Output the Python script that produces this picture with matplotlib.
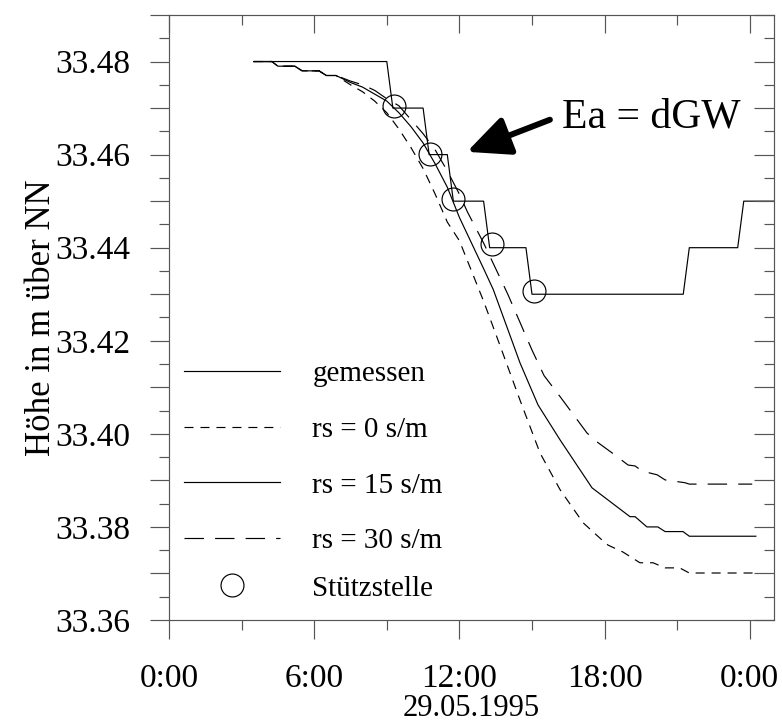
import matplotlib
matplotlib.use("Agg")
import matplotlib.pyplot as plt
from matplotlib.lines import Line2D
from matplotlib.ticker import MultipleLocator, FixedLocator, FuncFormatter, NullFormatter

plt.rcParams["font.family"] = ["Liberation Serif", "DejaVu Serif"]
plt.rcParams["lines.scale_dashes"] = False

# hours on 29.05.1995, water level in m above NN
meas_t = [3.5, 9.0, 9.25, 10.5, 10.75, 11.5, 11.75, 13.0, 13.25, 14.75, 15.0,
          21.25, 21.5, 23.5, 23.75, 25.0]
meas_h = [33.48, 33.48, 33.47, 33.47, 33.46, 33.46, 33.45, 33.45, 33.44, 33.44,
          33.43, 33.43, 33.44, 33.44, 33.45, 33.45]

# common start of the three simulations
start_t = [3.5, 4.25, 4.5, 5.2, 5.5, 6.2, 6.5, 6.9]
start_h = [33.480, 33.480, 33.479, 33.479, 33.478, 33.478, 33.477, 33.477]

rs0_t = start_t + [7.5, 8.0, 8.5, 9.0, 9.5, 10.0, 10.5, 11.0, 11.5, 12.0, 12.5,
                   13.0, 13.5, 14.0, 14.5, 15.33, 16.16, 17.11, 17.89, 18.14,
                   18.76, 19.46, 20.0, 20.5, 21.1, 21.5, 24.2]
rs0_h = start_h + [33.475, 33.4735, 33.4715, 33.469, 33.4655, 33.4615, 33.457,
                   33.4515, 33.4455, 33.4415, 33.435, 33.4285, 33.4215, 33.4144,
                   33.4073, 33.3959, 33.388, 33.3809, 33.3772, 33.3761, 33.3746,
                   33.3723, 33.3723, 33.3712, 33.3712, 33.3701, 33.3701]

rs15_t = start_t + [7.5, 8.0, 8.5, 9.0, 9.5, 10.0, 10.5, 11.0, 11.5, 12.0, 12.5,
                    13.0, 13.4, 14.2, 14.5, 15.25, 16.16, 17.48, 19.05, 19.26,
                    19.75, 20.2, 20.5, 21.24, 21.5, 24.25]
rs15_h = start_h + [33.4755, 33.4745, 33.473, 33.4715, 33.469, 33.466, 33.4625,
                    33.458, 33.453, 33.4465, 33.441, 33.4355, 33.431, 33.4196,
                    33.4153, 33.4062, 33.3987, 33.3884, 33.3822, 33.3822, 33.380,
                    33.380, 33.379, 33.379, 33.378, 33.378]

rs30_t = start_t + [7.5, 8.0, 8.5, 9.0, 9.5, 10.0, 10.5, 11.0, 11.5, 12.0, 12.33,
                    13.0, 14.0, 15.0, 15.5, 16.16, 17.27, 17.73, 18.31, 18.97,
                    19.26, 19.55, 20.17, 20.5, 21.32, 21.5, 24.1]
rs30_h = start_h + [33.4758, 33.475, 33.4738, 33.472, 33.4705, 33.4675, 33.4645,
                    33.461, 33.4565, 33.4515, 33.4477, 33.441, 33.430, 33.418,
                    33.4125, 33.408, 33.4002, 33.3981, 33.3959, 33.3933, 33.3931,
                    33.392, 33.3912, 33.3901, 33.3895, 33.3892, 33.3892]

support_t = [9.3, 10.8, 11.75, 13.33, 15.08]
support_h = [33.4705, 33.4602, 33.4505, 33.4409, 33.4308]

x_ticks = [0, 6, 12, 18, 24]
x_minor = [3, 9, 15, 21]
x_labels = ["0:00", "6:00", "12:00", "18:00", "0:00"]

short_dash = (0, (6.5, 5.0))
long_dash = (0, (14.0, 8.0))
lw = 0.85
spine_col = "#555555"
rect = [169 / 782, 106 / 726, 605 / 782, 605 / 726]

fig = plt.figure(figsize=(7.82, 7.26), dpi=100)
ax = fig.add_axes(rect)

ax.plot(meas_t, meas_h, color="black", lw=lw)
ax.plot(rs0_t, rs0_h, color="black", lw=lw, linestyle=short_dash)
ax.plot(rs15_t, rs15_h, color="black", lw=lw)
ax.plot(rs30_t, rs30_h, color="black", lw=lw, linestyle=long_dash)
ax.plot(support_t, support_h, linestyle="none", marker="o", ms=16.5,
        mfc="none", mec="black", mew=lw)

ax.set_xlim(0, 25)
ax.set_ylim(33.36, 33.49)

ax.xaxis.set_major_locator(FixedLocator(x_ticks))
ax.set_xticklabels(x_labels)
ax.xaxis.set_minor_locator(FixedLocator(x_minor))
ax.yaxis.set_major_locator(MultipleLocator(0.01))
ax.yaxis.set_minor_locator(MultipleLocator(0.005))
ax.yaxis.set_major_formatter(FuncFormatter(
    lambda v, p: f"{v:.2f}" if round(v * 100) % 2 == 0 else ""))

ax.tick_params(which="major", direction="out", length=14, width=lw,
               color=spine_col, labelsize=24, pad=14)
ax.tick_params(which="minor", direction="out", length=7, width=lw,
               color=spine_col)
ax.tick_params(axis="x", which="major", pad=17)
for s in ax.spines.values():
    s.set_color(spine_col)
    s.set_linewidth(lw)

# inward ticks on top and right
ax2 = fig.add_axes(rect, label="inner-ticks", facecolor="none")
ax2.set_xlim(ax.get_xlim())
ax2.set_ylim(ax.get_ylim())
ax2.xaxis.tick_top()
ax2.yaxis.tick_right()
ax2.xaxis.set_major_locator(FixedLocator(x_ticks))
ax2.xaxis.set_minor_locator(FixedLocator(x_minor))
ax2.yaxis.set_major_locator(MultipleLocator(0.01))
ax2.yaxis.set_minor_locator(MultipleLocator(0.005))
ax2.xaxis.set_major_formatter(NullFormatter())
ax2.yaxis.set_major_formatter(NullFormatter())
ax2.tick_params(axis="x", which="major", direction="in", length=13, width=lw, color=spine_col)
ax2.tick_params(axis="x", which="minor", direction="in", length=7, width=lw, color=spine_col)
ax2.tick_params(axis="y", which="major", direction="in", length=14.5, width=lw, color=spine_col)
ax2.tick_params(axis="y", which="minor", direction="in", length=7.5, width=lw, color=spine_col)
for s in ax2.spines.values():
    s.set_visible(False)

ax.set_ylabel("Höhe in m über NN", fontsize=25, labelpad=-2)
ax.set_xlabel("29.05.1995", fontsize=22, labelpad=0)

line_handles = [
    Line2D([], [], color="black", lw=lw),
    Line2D([], [], color="black", lw=lw, linestyle=short_dash),
    Line2D([], [], color="black", lw=lw),
    Line2D([], [], color="black", lw=lw, linestyle=long_dash),
]
line_labels = ["gemessen", "rs = 0 s/m", "rs = 15 s/m", "rs = 30 s/m"]
leg_style = dict(loc="upper left", frameon=False, fontsize=21, handlelength=3.3,
                 handletextpad=1.1, labelspacing=1.0, borderpad=0, borderaxespad=0)
leg1 = ax.legend(line_handles, line_labels, bbox_to_anchor=(0.025, 0.428), **leg_style)
ax.add_artist(leg1)
marker_handle = Line2D([], [], linestyle="none", marker="o", ms=16.5, mfc="none",
                       mec="black", mew=lw)
ax.legend([marker_handle], ["Stützstelle"], bbox_to_anchor=(0.025, 0.074), **leg_style)

ax.annotate("", xy=(12.31, 33.4606), xytext=(15.74, 33.4675),
            arrowprops=dict(arrowstyle="-|>,head_length=1.3,head_width=0.6",
                            lw=4.3, color="black", mutation_scale=20,
                            shrinkA=0, shrinkB=0))
ax.text(16.24, 33.468, "Ea = dGW", fontsize=30, ha="left", va="center")

fig.savefig("out.png", dpi=100)
